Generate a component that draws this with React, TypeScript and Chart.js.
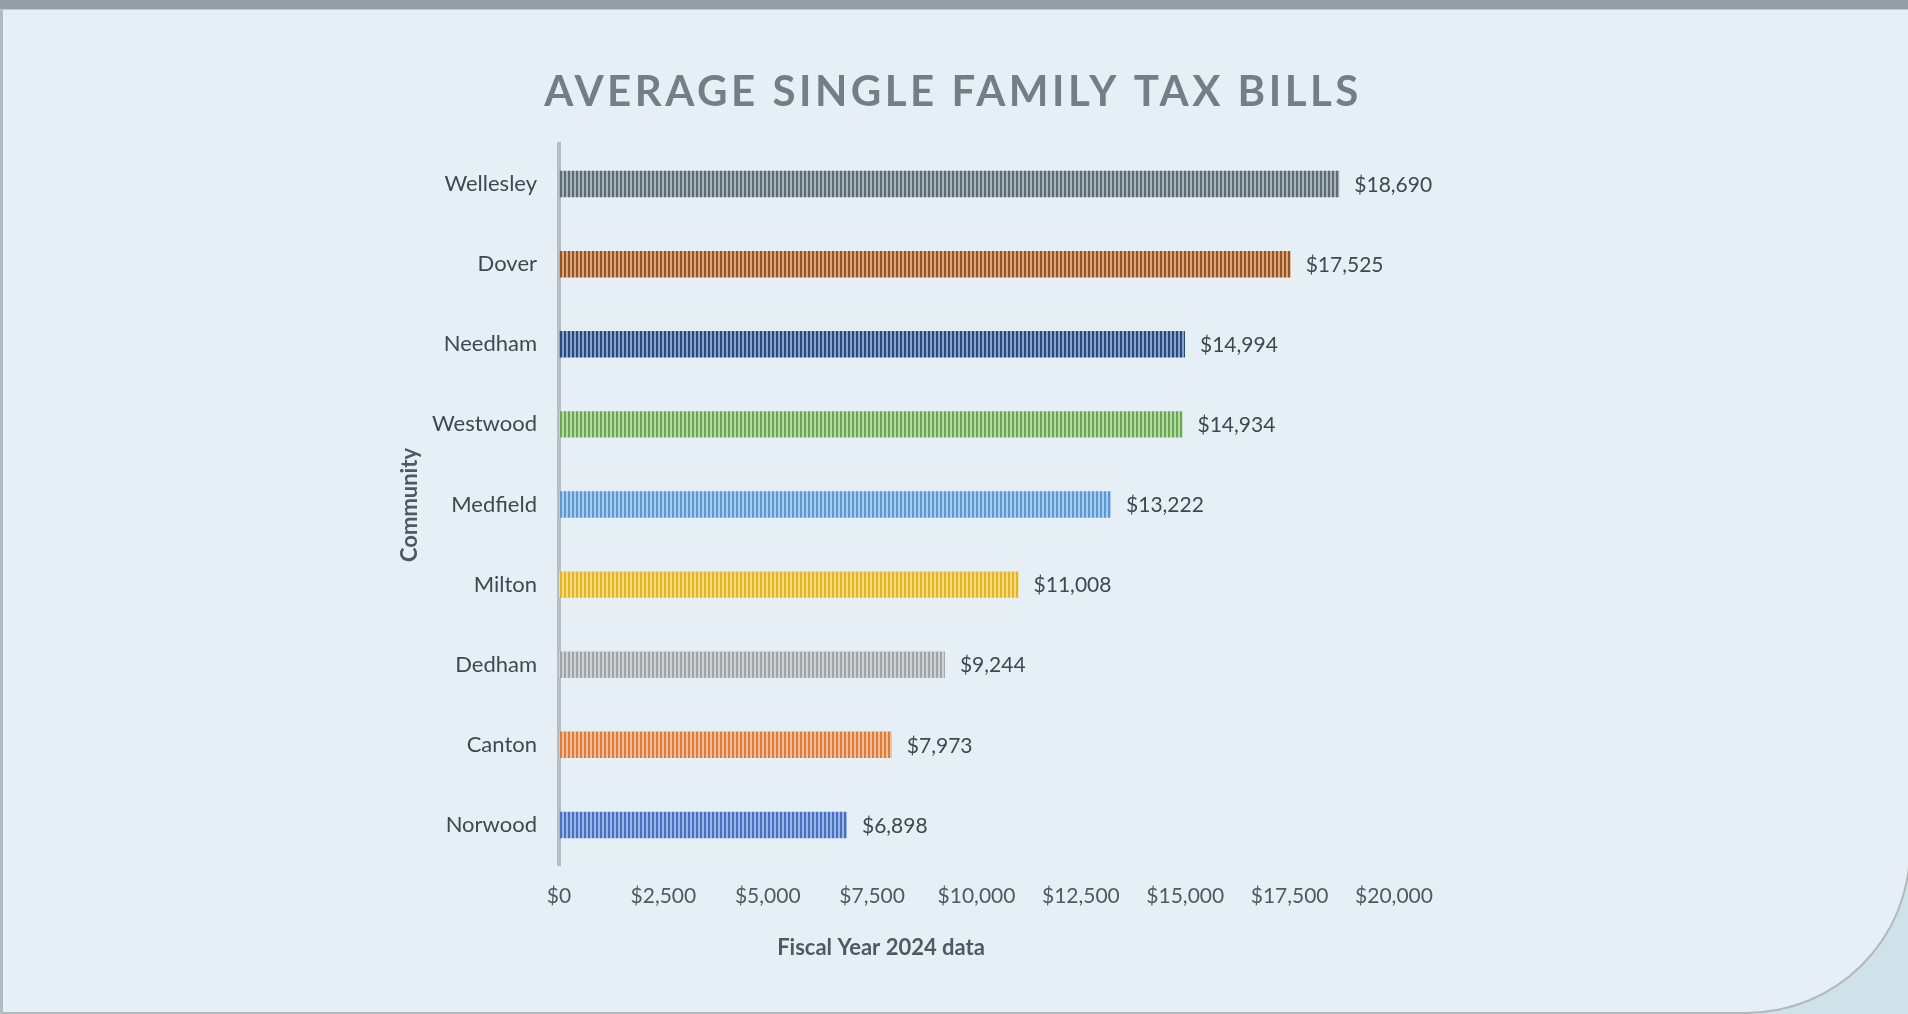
import React, { useEffect, useRef } from "react";
import { Chart, registerables } from "chart.js";

Chart.register(...registerables);

const communities = ["Wellesley", "Dover", "Needham", "Westwood", "Medfield", "Milton", "Dedham", "Canton", "Norwood"];
const taxBills = [18690, 17525, 14994, 14934, 13222, 11008, 9244, 7973, 6898];
const darkColors = ["#5f6b73", "#9a521e", "#264b80", "#68a84f", "#5898d4", "#e6b51c", "#9ea4a8", "#df7a37", "#4471c3"];
const lightColors = ["#a9b3ba", "#d6a783", "#8ba3c9", "#b7d8a8", "#abcbeb", "#f3da86", "#ced2d5", "#efbf9c", "#9db5e1"];
const xTickStep = 2500;
const xMax = 20000;
const chartTitle = "AVERAGE SINGLE FAMILY TAX BILLS";
const yTitle = "Community";
const xTitle = "Fiscal Year 2024 data";

const FONT = "Lato, 'Open Sans', sans-serif";

function fmt(v: number) {
  return "$" + v.toLocaleString("en-US");
}

function makePattern(dark: string, light: string) {
  const c = document.createElement("canvas");
  c.width = 4;
  c.height = 4;
  const g = c.getContext("2d")!;
  g.fillStyle = light;
  g.fillRect(0, 0, 4, 4);
  g.fillStyle = dark;
  g.fillRect(0, 0, 2, 4);
  return g.createPattern(c, "repeat")!;
}

const textPlugin = {
  id: "customText",
  afterDatasetsDraw(chart: any) {
    const ctx = chart.ctx;
    ctx.save();
    // value labels
    const meta = chart.getDatasetMeta(0);
    ctx.font = `21px ${FONT}`;
    ctx.fillStyle = "#3d4852";
    ctx.textAlign = "left";
    ctx.textBaseline = "middle";
    meta.data.forEach((bar: any, i: number) => {
      ctx.fillText(fmt(taxBills[i]), bar.x + 15, bar.y + 1);
    });
    // title
    ctx.font = `bold 42px ${FONT}`;
    ctx.fillStyle = "#737f88";
    ctx.textAlign = "center";
    (ctx as any).letterSpacing = "3.5px";
    ctx.fillText(chartTitle, 953, 92);
    (ctx as any).letterSpacing = "0px";
    // x title
    ctx.font = `bold 22px ${FONT}`;
    ctx.fillStyle = "#4e5a63";
    ctx.fillText(xTitle, 881, 948);
    // y title
    ctx.translate(410, 505);
    ctx.rotate(-Math.PI / 2);
    ctx.fillText(yTitle, 0, 0);
    ctx.restore();
  },
};

export default function App() {
  const ref = useRef<HTMLCanvasElement | null>(null);
  useEffect(() => {
    document.body.style.margin = "0";
    document.body.style.overflow = "hidden";
    const canvas = ref.current!;
    const patterns = darkColors.map((d, i) => makePattern(d, lightColors[i]));
    const chart = new Chart(canvas, {
      type: "bar",
      data: {
        labels: communities,
        datasets: [
          {
            data: taxBills,
            backgroundColor: patterns as any,
            borderWidth: 0,
            barPercentage: 0.33,
            categoryPercentage: 1,
          },
        ],
      },
      options: {
        indexAxis: "y",
        animation: false,
        responsive: false,
        maintainAspectRatio: false,
        layout: { padding: { left: 0, right: 514, top: 144, bottom: 89 } },
        plugins: { legend: { display: false }, tooltip: { enabled: false }, title: { display: false } },
        scales: {
          x: {
            min: 0,
            max: xMax,
            ticks: {
              stepSize: xTickStep,
              callback: (v: any) => fmt(Number(v)),
              font: { family: FONT, size: 21 },
              color: "#4e5a63",
              padding: 19,
              maxRotation: 0,
              autoSkip: false,
            },
            grid: { display: false, drawTicks: false },
            border: { display: false },
            afterFit: (s: any) => {
              s.height = 60;
            },
          },
          y: {
            ticks: {
              font: { family: FONT, size: 22 },
              color: "#3d4852",
              padding: 22,
            },
            grid: { display: false, drawTicks: false },
            border: { display: true, color: "#b3bec5", width: 4 },
            afterFit: (s: any) => {
              s.width = 559;
            },
          },
        },
      },
      plugins: [textPlugin],
    });
    return () => chart.destroy();
  }, []);

  return (
    <div style={{ position: "relative", width: 1908, height: 1014, overflow: "hidden", background: "#cfe2ea" }}>
      <div
        style={{
          position: "absolute",
          left: 0,
          top: 0,
          width: 1911,
          height: 1014,
          boxSizing: "border-box",
          background: "#e6eff6",
          borderLeft: "3px solid #aebcc4",
          borderBottom: "2px solid #b3b8bb",
          borderRight: "2px solid #b3b8bb",
          borderBottomRightRadius: 165,
        }}
      />
      <div style={{ position: "absolute", left: 0, top: 0, width: 1908, height: 9, background: "#939fa6" }} />
      <div style={{ position: "absolute", left: 0, top: 9, width: 1908, height: 1, background: "#bfcbd1" }} />
      <canvas ref={ref} width={1908} height={1014} style={{ position: "absolute", left: 0, top: 0, width: 1908, height: 1014 }} />
    </div>
  );
}
